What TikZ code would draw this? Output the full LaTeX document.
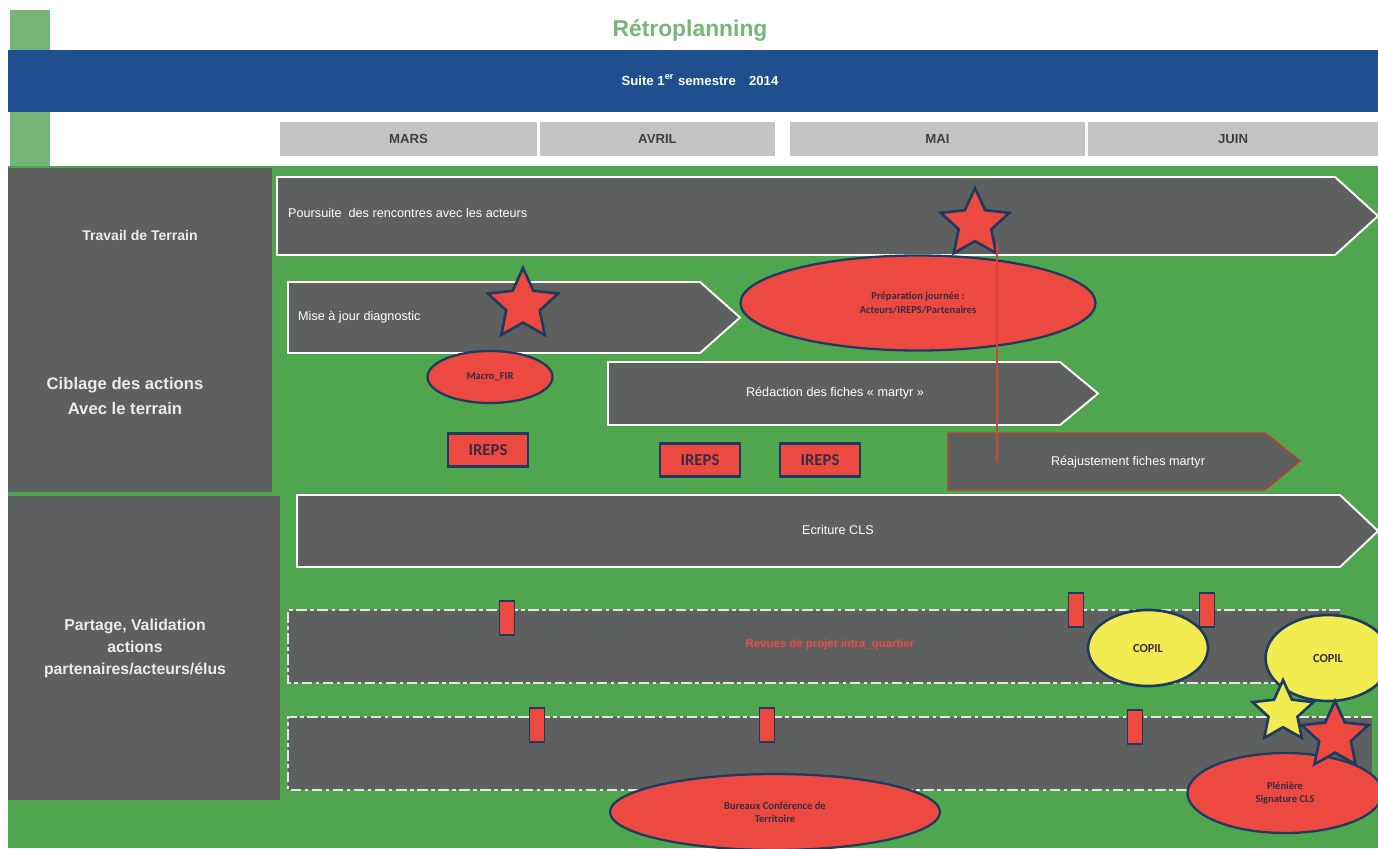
\documentclass[tikz,border=0pt]{standalone}
\usepackage{fontspec}
\setmainfont{Liberation Sans}
\newfontfamily\carl{Carlito}
\usetikzlibrary{shapes.geometric}
\newdimen\pxu \pxu=0.02cm
\definecolor{grass}{HTML}{4FA64F}
\definecolor{leaf}{HTML}{78B578}
\definecolor{navy}{HTML}{1F4F8F}
\definecolor{slate}{HTML}{5E6060}
\definecolor{month}{HTML}{C4C4C4}
\definecolor{tomato}{HTML}{EC4A40}
\definecolor{ink}{HTML}{1E3A5F}
\definecolor{lemon}{HTML}{F2EC50}
\definecolor{plum}{HTML}{3A2A40}
\begin{document}
\begin{tikzpicture}[x=0.02cm,y=-0.02cm,
  chev/.style={fill=slate,draw=white,line width=1.1pt},
  bartxt/.style={text=white,font=\fontsize{7.2}{8}\selectfont},
  sidetxt/.style={text=white!92!black,align=center,font=\bfseries\fontsize{9}{12.5}\selectfont},
  monthtxt/.style={text=black!75,font=\bfseries\fontsize{7.5}{9}\selectfont},
  bubble/.style={ellipse,fill=tomato,draw=ink,line width=1.3pt,inner sep=0pt,align=center,
    text=plum,font=\carl\bfseries\fontsize{6}{7.5}\selectfont},
  copil/.style={ellipse,fill=lemon,draw=ink,line width=1.5pt,inner sep=0pt,
    text=plum,font=\carl\bfseries\fontsize{7}{8}\selectfont},
  ireps/.style={fill=tomato,draw=ink,line width=1.4pt,minimum width=80\pxu,minimum height=33\pxu,
    inner sep=0pt,text=plum,font=\carl\bfseries\fontsize{9.5}{10}\selectfont},
  mile/.style={fill=tomato,draw=ink,line width=1pt,minimum width=15\pxu,minimum height=34\pxu,inner sep=0pt},
  etoile/.style={star,star points=5,star point ratio=2.1,draw=ink,line width=1.5pt,inner sep=0pt},
  dashline/.style={white!90!black,line width=1pt,dash pattern=on 6pt off 2pt on 2pt off 2pt}]
\useasboundingbox (0,0) rectangle (1378,848);
\clip (0,0) rectangle (1378,848);
\fill[white] (0,0) rectangle (1378,848);
% header
\fill[leaf] (10,10) rectangle (50,168);
\fill[grass] (8,166) rectangle (1378,848);
\fill[navy] (8,50) rectangle (1378,112);
\node[text=leaf,font=\bfseries\fontsize{13}{15}\selectfont] (title) at (690,31) {Rétroplanning};
\node[text=white,font=\bfseries\fontsize{7.5}{9}\selectfont] (sem) at (700,80) {Suite 1\textsuperscript{er} semestre\quad 2014};
\foreach \lbl/\xa/\xb [count=\n] in {MARS/280/537, AVRIL/540/775, MAI/790/1085, JUIN/1088/1378} {
  \fill[month] (\xa,122) rectangle (\xb,156);
  \node[monthtxt] (m\n) at ({(\xa+\xb)/2},139) {\lbl};
}
% left column
\fill[slate] (8,168) rectangle (272,492);
\fill[slate] (8,496) rectangle (280,800);
\node[sidetxt,font=\bfseries\fontsize{8}{10}\selectfont] (terrain) at (140,235) {Travail de Terrain};
\node[sidetxt,font=\bfseries\fontsize{9.5}{14.5}\selectfont] (ciblage) at (125,396) {Ciblage des actions\\Avec le terrain};
\node[sidetxt] (partage) at (135,648) {Partage, Validation\\actions\\partenaires/acteurs/élus};
% chevron bars
\foreach \xa/\ya/\xb/\yb/\tip in {277/177/1335/255/1378, 288/282/700/353/740,
    608/362/1060/425/1098, 297/495/1340/567/1378} {
  \draw[chev] (\xa,\ya) -- (\xb,\ya) -- (\tip,{(\ya+\yb)/2}) -- (\xb,\yb) -- (\xa,\yb) -- cycle;
}
\draw[chev,draw=tomato!80!black,line width=0.8pt] (948,433) -- (1265,433) -- (1300,461) -- (1265,490) -- (948,490) -- cycle;
\node[bartxt,anchor=west] (pours) at (282,213) {Poursuite\ \ des rencontres avec les acteurs};
\node[bartxt,anchor=west] (maj) at (292,317) {Mise à jour diagnostic};
\node[bartxt] (redac) at (835,393) {Rédaction des fiches « martyr »};
\node[bartxt] (reaj) at (1128,462) {Réajustement fiches martyr};
\node[bartxt] (ecrit) at (838,530) {Ecriture CLS};
% dashed lanes
\foreach \xb/\ya/\yb in {1340/610/683, 1372/717/790} {
  \fill[slate] (288,\ya) rectangle (\xb,\yb);
  \draw[dashline] (\xb,\ya) -- (288,\ya) -- (288,\yb) -- (\xb,\yb);
}
\node[text=tomato,font=\bfseries\fontsize{6.5}{8}\selectfont] (revues) at (830,645) {Revues de projet intra\_quartier};
% milestones
\foreach \x/\y [count=\n] in {507/618, 1076/610, 1207/610, 537/725, 767/725, 1135/727} {
  \node[mile] (jal\n) at (\x,\y) {};
}
\foreach \x/\y [count=\n] in {488/450, 700/460, 820/460} {
  \node[ireps] (ireps\n) at (\x,\y) {IREPS};
}
% bubbles
\node[bubble,minimum width=125\pxu,minimum height=52\pxu] (macro) at (490,377) {Macro\_FIR};
\node[bubble,minimum width=355\pxu,minimum height=95\pxu] (prep) at (918,303) {Préparation journée :\\Acteurs/IREPS/Partenaires};
\node[copil,minimum width=120\pxu,minimum height=76\pxu] (copil1) at (1148,648) {COPIL};
\node[copil,minimum width=125\pxu,minimum height=86\pxu] (copil2) at (1328,658) {COPIL};
\node[bubble,minimum width=330\pxu,minimum height=76\pxu] (bureaux) at (775,812) {Bureaux Conférence de\\Territoire};
\node[bubble,minimum width=195\pxu,minimum height=80\pxu] (pleniere) at (1285,793) {Plénière\\Signature CLS};
% stars
\node[etoile,fill=tomato,minimum size=74\pxu] (star1) at (523,305) {};
\node[etoile,fill=tomato,minimum size=72\pxu] (star2) at (975,224) {};
\node[etoile,fill=lemon,minimum size=64\pxu] (star3) at (1283,712) {};
\node[etoile,fill=tomato,minimum size=70\pxu] (star4) at (1335,736) {};
% link
\coordinate (tick) at (997,462);
\draw[tomato!90!black,line width=1pt] (star2.south -| tick) -- (tick);
\end{tikzpicture}
\end{document}
